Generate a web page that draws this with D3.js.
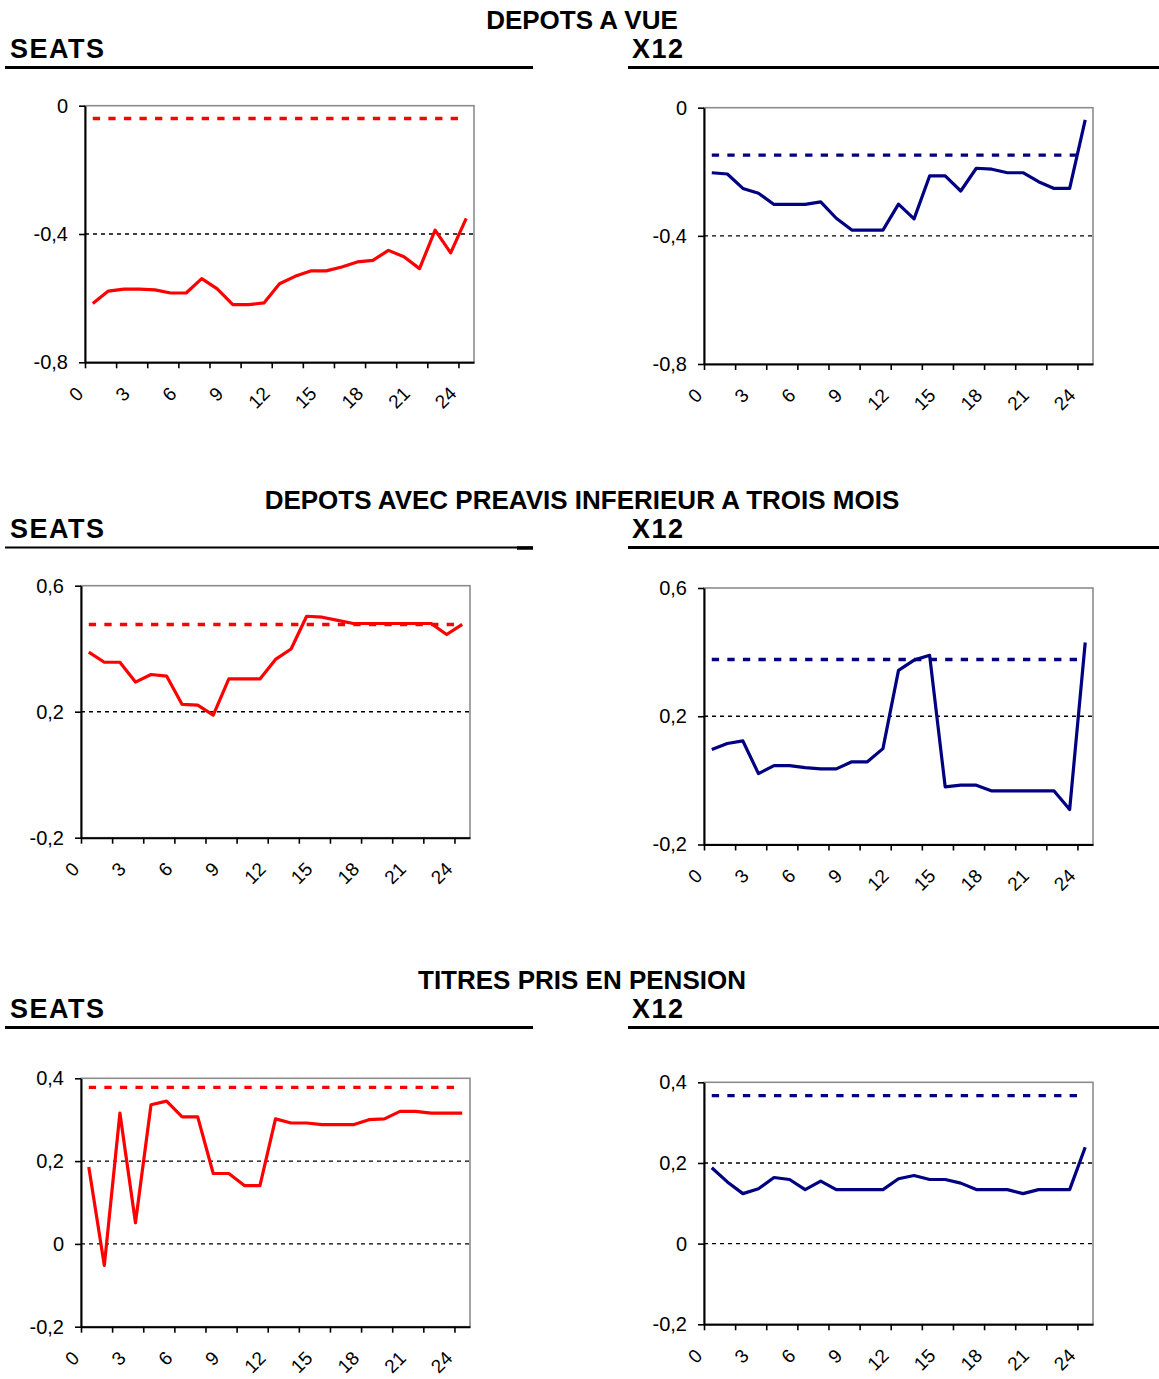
<!DOCTYPE html>
<html><head><meta charset="utf-8">
<script src="https://cdn.jsdelivr.net/npm/d3@7"></script>
<style>
body{margin:0;background:#fff}
svg{display:block}
text{font-family:"Liberation Sans",Arial,sans-serif}
</style>
</head><body>
<svg id="c" width="1159" height="1379"></svg>
<script>
// ---------- data ----------
const categories = [0,1,2,3,4,5,6,7,8,9,10,11,12,13,14,15,16,17,18,19,20,21,22,23,24];
const xTickLabels = ["0","3","6","9","12","15","18","21","24"];
const sectionTitles = ["DEPOTS A VUE","DEPOTS AVEC PREAVIS INFERIEUR A TROIS MOIS","TITRES PRIS EN PENSION"];
const methodNames = ["SEATS","X12"];

const seatsVue = [-0.617,-0.578,-0.572,-0.572,-0.574,-0.584,-0.584,-0.539,-0.571,-0.620,-0.620,-0.615,-0.555,-0.532,-0.515,-0.515,-0.503,-0.487,-0.482,-0.451,-0.471,-0.508,-0.388,-0.459,-0.351];
const x12Vue = [-0.203,-0.207,-0.252,-0.267,-0.302,-0.302,-0.302,-0.294,-0.345,-0.382,-0.382,-0.382,-0.301,-0.347,-0.213,-0.213,-0.260,-0.189,-0.192,-0.203,-0.203,-0.231,-0.252,-0.252,-0.038];
const seatsPreavis = [0.389,0.357,0.357,0.294,0.318,0.313,0.223,0.221,0.189,0.304,0.304,0.304,0.366,0.399,0.503,0.500,0.490,0.480,0.480,0.480,0.480,0.480,0.480,0.445,0.477];
const x12Preavis = [0.096,0.115,0.123,0.021,0.046,0.046,0.040,0.036,0.036,0.058,0.058,0.099,0.343,0.375,0.390,-0.020,-0.015,-0.015,-0.033,-0.033,-0.033,-0.033,-0.033,-0.091,0.430];
const seatsTitres = [0.186,-0.052,0.316,0.051,0.336,0.345,0.307,0.307,0.170,0.170,0.141,0.141,0.302,0.292,0.292,0.288,0.288,0.288,0.300,0.302,0.320,0.320,0.316,0.316,0.316];
const x12Titres = [0.188,0.153,0.124,0.136,0.164,0.159,0.134,0.155,0.134,0.134,0.134,0.134,0.161,0.169,0.159,0.159,0.150,0.134,0.134,0.134,0.124,0.134,0.134,0.134,0.239];

const seatsRefLevels = [-0.04, 0.477, 0.378];
const x12RefLevels = [-0.148, 0.377, 0.367];

const yDomains = [[-0.8,0],[-0.2,0.6],[-0.2,0.4]];
const yTickValues = [[0,-0.4,-0.8],[0.6,0.2,-0.2],[0.4,0.2,0,-0.2]];
const yTickLabels = [["0","-0,4","-0,8"],["0,6","0,2","-0,2"],["0,4","0,2","0","-0,2"]];
const gridValues = [[-0.4],[0.2],[0.2,0]];

const seatsSeries = [seatsVue, seatsPreavis, seatsTitres];
const x12Series = [x12Vue, x12Preavis, x12Titres];
const seatsColor = "#ff0000";
const x12Color = "#000080";

// ---------- layout ----------
const PW = 389;
const rowStep = 480;
const panelBoxes = [
  {left:{x:85, y:105.7, h:256.6}, right:{x:704, y:107.7, h:256.3}},
  {left:{x:81, y:585.7, h:252},   right:{x:704, y:588,   h:256.5}},
  {left:{x:81, y:1078.3,h:248.4}, right:{x:704, y:1082.3,h:242}}
];

const svg = d3.select("#c");
svg.append("rect").attr("width",1159).attr("height",1379).attr("fill","#fff");

function drawPanel(box, values, ref, color, dom, ticks, labels, grids){
  const xs = d3.scaleLinear().domain([0, categories.length]).range([0, PW]);
  const ys = d3.scaleLinear().domain(dom).range([box.h, 0]);
  const step = xs(1) - xs(0);
  const g = svg.append("g").attr("transform", `translate(${box.x},${box.y})`);

  g.append("rect").attr("width", PW).attr("height", box.h)
    .attr("fill","#fff").attr("stroke","#8c8c8c").attr("stroke-width",1.6);

  g.selectAll("line.grid").data(grids).join("line").attr("class","grid")
    .attr("x1",0).attr("x2",PW).attr("y1",d=>ys(d)).attr("y2",d=>ys(d))
    .attr("stroke","#000").attr("stroke-width",1.4).attr("stroke-dasharray","4,4");

  g.append("path").datum(categories)
    .attr("d", d3.line().x(c=>xs(c+0.5)).y(()=>ys(ref)))
    .attr("fill","none").attr("stroke",color).attr("stroke-width",3.4)
    .attr("stroke-dasharray", `${step*0.47},${step*0.53}`);

  g.append("path").datum(values)
    .attr("d", d3.line().x((v,i)=>xs(categories[i]+0.5)).y(v=>ys(v)))
    .attr("fill","none").attr("stroke",color).attr("stroke-width",3.2)
    .attr("stroke-linejoin","round");

  const ya = g.append("g").call(
    d3.axisLeft(ys).tickValues(ticks).tickFormat((d,i)=>labels[i])
      .tickSize(6).tickSizeOuter(0).tickPadding(11));
  ya.select(".domain").attr("stroke","#000").attr("stroke-width",2);
  ya.selectAll(".tick line").attr("stroke","#000").attr("stroke-width",1.6);
  ya.selectAll(".tick text").attr("font-size",20).attr("fill","#000")
    .attr("font-family","'Liberation Sans',Arial,sans-serif");

  const tickCats = categories.filter(c => c % 2 === 0);
  const xa = g.append("g").attr("transform",`translate(0,${box.h})`).call(
    d3.axisBottom(xs).tickValues(tickCats).tickFormat("").tickSize(6).tickSizeOuter(0));
  xa.select(".domain").attr("stroke","#000").attr("stroke-width",2);
  xa.selectAll(".tick line").attr("stroke","#000").attr("stroke-width",1.6);

  g.selectAll("text.xl").data(xTickLabels).join("text").attr("class","xl")
    .attr("transform", d => `translate(${xs(+d+0.5)-13},${box.h+28}) rotate(-45)`)
    .attr("text-anchor","end").attr("dominant-baseline","central")
    .attr("font-size",19).attr("fill","#000").text(d=>d);
}

sectionTitles.forEach((title, r) => {
  const oy = r * rowStep;
  svg.append("text").attr("x",582).attr("y",28.5+oy).attr("text-anchor","middle")
    .attr("font-size",26).attr("font-weight","bold").text(title);
  svg.append("text").attr("x",10).attr("y",58.3+oy)
    .attr("font-size",27).attr("font-weight","bold").attr("letter-spacing",1.5).text(methodNames[0]);
  svg.append("text").attr("x",632).attr("y",58.3+oy)
    .attr("font-size",27).attr("font-weight","bold").attr("letter-spacing",1.5).text(methodNames[1]);
  svg.append("line").attr("x1",5).attr("x2",533).attr("y1",67.5+oy).attr("y2",67.5+oy)
    .attr("stroke","#000").attr("stroke-width", r===1 ? 2 : 3);
  if (r===1) svg.append("line").attr("x1",517).attr("x2",533).attr("y1",68+oy).attr("y2",68+oy)
    .attr("stroke","#000").attr("stroke-width",3.5);
  svg.append("line").attr("x1",628).attr("x2",1159).attr("y1",67.5+oy).attr("y2",67.5+oy)
    .attr("stroke","#000").attr("stroke-width",3);

  drawPanel(panelBoxes[r].left, seatsSeries[r], seatsRefLevels[r], seatsColor,
    yDomains[r], yTickValues[r], yTickLabels[r], gridValues[r]);
  drawPanel(panelBoxes[r].right, x12Series[r], x12RefLevels[r], x12Color,
    yDomains[r], yTickValues[r], yTickLabels[r], gridValues[r]);
});
</script>
</body></html>
